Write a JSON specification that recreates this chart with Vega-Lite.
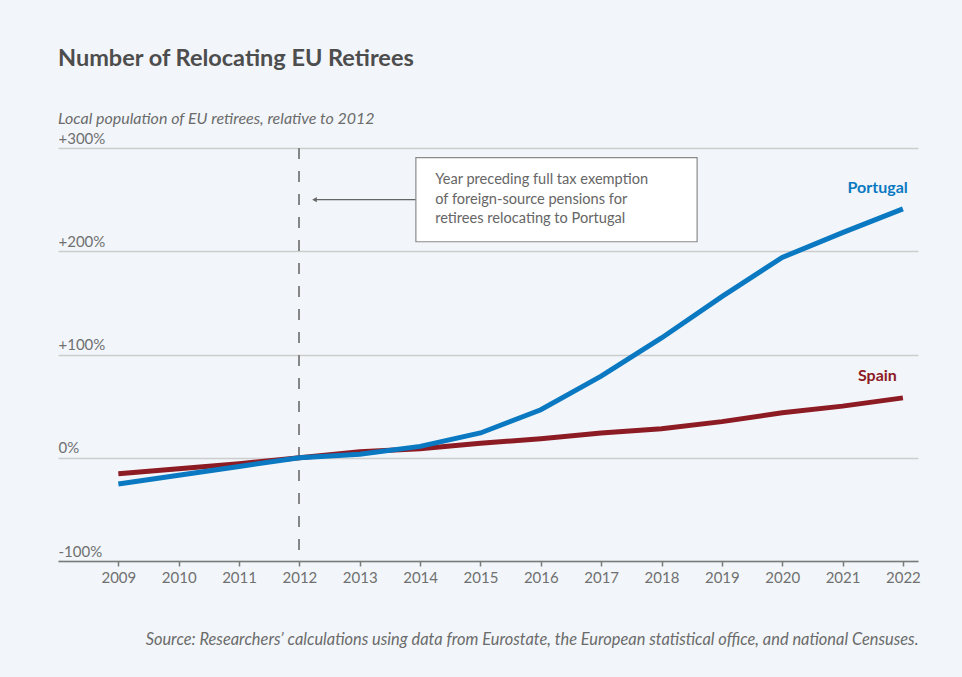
{
  "$schema": "https://vega.github.io/schema/vega-lite/v6.json",
  "width": 860,
  "height": 413,
  "autosize": {"type": "none"},
  "padding": {"left": 58, "top": 148, "right": 44, "bottom": 116},
  "background": "#f2f6fa",
  "title": {
    "text": "Number of Relocating EU Retirees",
    "subtitle": "Local population of EU retirees, relative to 2012",
    "anchor": "start",
    "font": "Lato",
    "fontSize": 23.5,
    "fontWeight": "bold",
    "color": "#4d4d4d",
    "subtitleFont": "Lato",
    "subtitleFontSize": 16,
    "subtitleFontStyle": "italic",
    "subtitleColor": "#6b6b6b",
    "subtitlePadding": 41,
    "offset": 4
  },
  "config": {
    "view": {"stroke": null},
    "font": "Lato"
  },
  "datasets": {
    "series": [
      {"year": 2009, "country": "Portugal", "value": -25.5},
      {"year": 2010, "country": "Portugal", "value": -17},
      {"year": 2011, "country": "Portugal", "value": -8.4},
      {"year": 2012, "country": "Portugal", "value": 0},
      {"year": 2013, "country": "Portugal", "value": 3.5},
      {"year": 2014, "country": "Portugal", "value": 11},
      {"year": 2015, "country": "Portugal", "value": 24},
      {"year": 2016, "country": "Portugal", "value": 46.5},
      {"year": 2017, "country": "Portugal", "value": 79},
      {"year": 2018, "country": "Portugal", "value": 116},
      {"year": 2019, "country": "Portugal", "value": 156},
      {"year": 2020, "country": "Portugal", "value": 194},
      {"year": 2021, "country": "Portugal", "value": 218},
      {"year": 2022, "country": "Portugal", "value": 241},
      {"year": 2009, "country": "Spain", "value": -15.5},
      {"year": 2010, "country": "Spain", "value": -10.6},
      {"year": 2011, "country": "Spain", "value": -5.8},
      {"year": 2012, "country": "Spain", "value": 0},
      {"year": 2013, "country": "Spain", "value": 5.8},
      {"year": 2014, "country": "Spain", "value": 8.7},
      {"year": 2015, "country": "Spain", "value": 14},
      {"year": 2016, "country": "Spain", "value": 18.5},
      {"year": 2017, "country": "Spain", "value": 24},
      {"year": 2018, "country": "Spain", "value": 28},
      {"year": 2019, "country": "Spain", "value": 35},
      {"year": 2020, "country": "Spain", "value": 43.5},
      {"year": 2021, "country": "Spain", "value": 50},
      {"year": 2022, "country": "Spain", "value": 58}
    ],
    "labels": [
      {"year": 2022.08, "value": 261, "country": "Portugal"},
      {"year": 2021.9, "value": 79.5, "country": "Spain"}
    ],
    "note": [
      {"x1": 2013.93, "x2": 2018.59, "y1": 290.6, "y2": 209.2, "tx": 2014.25, "ty": 269, "ax": 2012.25, "ay": 250, "text": "Year preceding full tax exemption\nof foreign-source pensions for\nretirees relocating to Portugal"}
    ]
  },
  "encoding": {
    "x": {
      "type": "quantitative",
      "scale": {"domain": [2008, 2022.25], "nice": false, "zero": false}
    }
  },
  "layer": [
    {
      "data": {"name": "series"},
      "mark": {"type": "rule"},
      "encoding": {
        "x": {"datum": 2012, "type": "quantitative"},
        "color": {"value": "#858585"},
        "strokeDash": {"value": [11, 12]},
        "strokeWidth": {"value": 1.2}
      }
    },
    {
      "data": {"name": "series"},
      "mark": {"type": "line", "strokeWidth": 5, "strokeCap": "butt"},
      "transform": [{"filter": "datum.country === 'Spain'"}],
      "encoding": {
        "x": {
          "field": "year",
          "type": "quantitative",
          "axis": {
            "values": [2009, 2010, 2011, 2012, 2013, 2014, 2015, 2016, 2017, 2018, 2019, 2020, 2021, 2022],
            "format": "d",
            "grid": false,
            "domainColor": "#7a7a7a",
            "domainWidth": 1.5,
            "tickColor": "#7a7a7a",
            "tickSize": 5,
            "tickWidth": 1.5,
            "labelFont": "Lato",
            "labelFontSize": 15,
            "labelColor": "#707070",
            "labelPadding": 4,
            "title": "Source: Researchers’ calculations using data from Eurostate, the European statistical office, and national Censuses.",
            "titleFont": "Lato",
            "titleFontSize": 16.4,
            "titleFontStyle": "italic",
            "titleFontWeight": "normal",
            "titleColor": "#6b6b6b",
            "titleAnchor": "end",
            "titleAlign": "right",
            "titlePadding": 46
          }
        },
        "y": {
          "field": "value",
          "type": "quantitative",
          "scale": {"domain": [-100, 300], "nice": false},
          "axis": {
            "values": [-100, 0, 100, 200, 300],
            "labelExpr": "datum.value > 0 ? '+' + datum.value + '%' : datum.value + '%'",
            "domain": false,
            "ticks": false,
            "grid": true,
            "gridColor": "#cdcdcd",
            "gridWidth": 1.5,
            "labelAlign": "left",
            "labelBaseline": "alphabetic",
            "labelOffset": -5,
            "labelPadding": 0,
            "labelFont": "Lato",
            "labelFontSize": 15,
            "labelColor": "#707070",
            "title": null
          }
        },
        "color": {"value": "#8d1b24"}
      }
    },
    {
      "data": {"name": "series"},
      "mark": {"type": "line", "strokeWidth": 5, "strokeCap": "butt"},
      "transform": [{"filter": "datum.country === 'Portugal'"}],
      "encoding": {
        "x": {"field": "year", "type": "quantitative"},
        "y": {"field": "value", "type": "quantitative"},
        "color": {"value": "#0b79c1"}
      }
    },
    {
      "data": {"name": "labels"},
      "mark": {"type": "text", "align": "right", "baseline": "middle", "fontWeight": "bold", "fontSize": 16, "font": "Lato"},
      "encoding": {
        "x": {"field": "year", "type": "quantitative"},
        "y": {"field": "value", "type": "quantitative"},
        "text": {"field": "country"},
        "color": {
          "field": "country",
          "type": "nominal",
          "scale": {"domain": ["Portugal", "Spain"], "range": ["#0b79c1", "#8d1b24"]},
          "legend": null
        }
      }
    },
    {
      "data": {"name": "note"},
      "mark": {"type": "rule", "strokeWidth": 1.2, "color": "#666666"},
      "encoding": {
        "x": {"field": "ax", "type": "quantitative"},
        "x2": {"field": "x1"},
        "y": {"field": "ay", "type": "quantitative"}
      }
    },
    {
      "data": {"name": "note"},
      "mark": {"type": "point", "shape": "triangle-left", "filled": true, "size": 28, "color": "#666666", "opacity": 1},
      "encoding": {
        "x": {"field": "ax", "type": "quantitative"},
        "y": {"field": "ay", "type": "quantitative"}
      }
    },
    {
      "data": {"name": "note"},
      "mark": {"type": "rect", "fill": "#ffffff", "stroke": "#8a8a8a", "strokeWidth": 1.2},
      "encoding": {
        "x": {"field": "x1", "type": "quantitative"},
        "x2": {"field": "x2"},
        "y": {"field": "y1", "type": "quantitative"},
        "y2": {"field": "y2"}
      }
    },
    {
      "data": {"name": "note"},
      "mark": {"type": "text", "align": "left", "baseline": "middle", "lineBreak": "\n", "lineHeight": 19.5, "fontSize": 14.6, "font": "Lato", "color": "#666666"},
      "encoding": {
        "x": {"field": "tx", "type": "quantitative"},
        "y": {"field": "ty", "type": "quantitative"},
        "text": {"field": "text"}
      }
    }
  ]
}
